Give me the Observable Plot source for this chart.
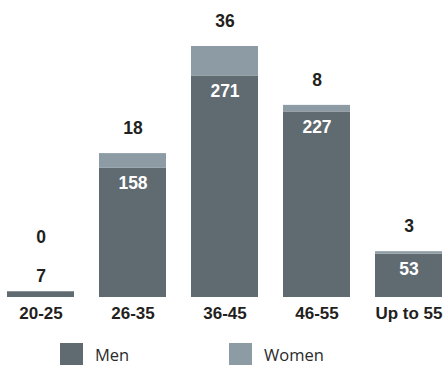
<!DOCTYPE html>
<html>
<head>
<meta charset="utf-8">
<script src="https://cdn.jsdelivr.net/npm/d3@7"></script>
<script src="https://cdn.jsdelivr.net/npm/@observablehq/plot@0.6"></script>
<style>
  html, body { margin: 0; padding: 0; background: #fff; overflow: hidden; }
  #wrap { position: relative; width: 443px; height: 365px; }
  .legend { position: absolute; top: 343px; left: 0; width: 443px; height: 30px;
    font-family: "Open Sans", "Liberation Sans", sans-serif; font-size: 16.5px; color: #2a2a2a; }
  .item { position: absolute; top: 0; display: flex; align-items: center; }
  .sw { width: 23px; height: 23px; margin-right: 12px; }
</style>
</head>
<body>
<div id="wrap"></div>
<script>
const categories = ["20-25", "26-35", "36-45", "46-55", "Up to 55"];
const men = [7, 158, 271, 227, 53];
const women = [0, 18, 36, 8, 3];
const series = ["Men", "Women"];
const colors = ["#5f6a71", "#8d9ca4"];

const rows = [];
categories.forEach((c, i) => {
  rows.push({age: c, sex: "Men", value: men[i]});
  rows.push({age: c, sex: "Women", value: women[i]});
});
const totals = categories.map((c, i) => ({age: c, men: men[i], women: women[i], total: men[i] + women[i]}));

const valueFont = {fontFamily: "'Liberation Sans', sans-serif", fontWeight: "bold", fontSize: 17.5};
const dark = "#231f20";

const chart = Plot.plot({
  width: 443,
  height: 343,
  marginLeft: 7,
  marginRight: 0,
  marginTop: 46,
  marginBottom: 46,
  x: {domain: categories, paddingInner: 0.27, paddingOuter: 0, axis: null},
  y: {domain: [0, 307], axis: null},
  color: {domain: series, range: colors},
  marks: [
    Plot.barY(rows, {x: "age", y: "value", fill: "sex"}),
    // men labels inside bar
    Plot.text(totals.filter(d => d.men >= 20), {x: "age", y: "men", text: d => String(d.men), dy: 15, fill: "white", ...valueFont}),
    // men labels above tiny bar
    Plot.text(totals.filter(d => d.men < 20), {x: "age", y: "total", text: d => String(d.men), dy: -15, fill: dark, ...valueFont}),
    // women labels above bar
    Plot.text(totals.filter(d => d.men >= 20), {x: "age", y: "total", text: d => String(d.women), dy: -25, fill: dark, ...valueFont}),
    Plot.text(totals.filter(d => d.men < 20), {x: "age", y: "total", text: d => String(d.women), dy: -54, fill: dark, ...valueFont}),
    // category labels
    Plot.text(categories, {x: d => d, y: () => 0, dy: 16, text: d => d, fill: dark,
      fontFamily: "'Liberation Sans', sans-serif", fontWeight: "bold", fontSize: 17})
  ]
});
chart.style.overflow = "visible";
document.getElementById("wrap").appendChild(chart);

const legend = document.createElement("div");
legend.className = "legend";
const lefts = [60, 229];
series.forEach((s, i) => {
  const item = document.createElement("div");
  item.className = "item";
  item.style.left = lefts[i] + "px";
  const sw = document.createElement("div");
  sw.className = "sw";
  sw.style.background = colors[i];
  const t = document.createElement("span");
  t.textContent = s;
  item.appendChild(sw);
  item.appendChild(t);
  legend.appendChild(item);
});
document.getElementById("wrap").appendChild(legend);
</script>
</body>
</html>
